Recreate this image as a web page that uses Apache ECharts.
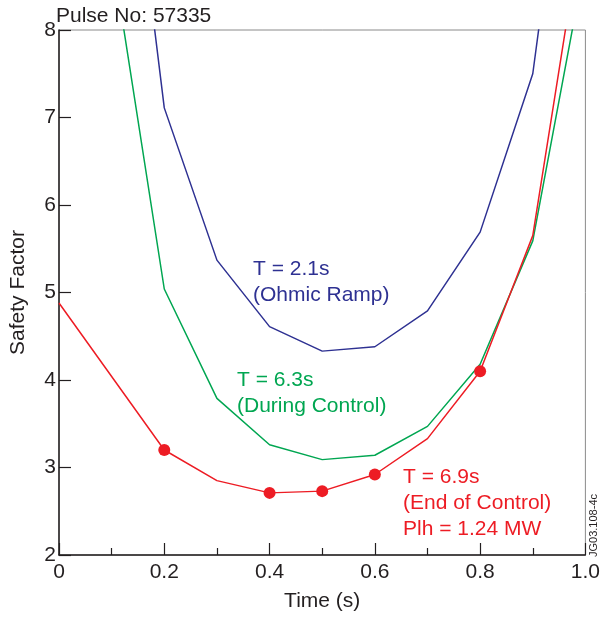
<!DOCTYPE html>
<html>
<head>
<meta charset="utf-8">
<script src="https://cdn.jsdelivr.net/npm/echarts@6/dist/echarts.min.js"></script>
<style>
  html, body { margin: 0; padding: 0; background: #fff; }
  #chart { width: 603px; height: 617px; }
</style>
</head>
<body>
<div id="chart"></div>
<script>
// time (s) at which each profile was sampled
var timeX = [0, 0.1, 0.2, 0.3, 0.4, 0.5, 0.6, 0.7, 0.8, 0.9, 1.0];
// T = 2.1s (Ohmic Ramp)
var ohmicQ = [null, 12.0, 7.11, 5.37, 4.61, 4.33, 4.38, 4.79, 5.69, 7.50, 12.0];
// T = 6.3s (During Control)
var duringQ = [null, 8.9, 5.04, 3.79, 3.26, 3.09, 3.14, 3.47, 4.18, 5.59, 8.8];
// T = 6.9s (End of Control)
var endQ = [4.88, 4.04, 3.20, 2.85, 2.71, 2.73, 2.92, 3.33, 4.10, 5.65, 9.44];
// times where the end-of-control profile carries a marker
var endDots = [0.2, 0.4, 0.5, 0.6, 0.8];

var xTicks = [0, 0.2, 0.4, 0.6, 0.8, 1.0];
var yTicks = [2, 3, 4, 5, 6, 7, 8];

var BLUE = '#2e3192', GREEN = '#00a651', RED = '#ed1c24', INK = '#231f20';
var FONT = '"Liberation Sans", Arial, sans-serif';
var FS = 21;

function pairs(ys) {
  var out = [];
  for (var i = 0; i < timeX.length; i++) {
    if (ys[i] != null) out.push([timeX[i], ys[i]]);
  }
  return out;
}

var endData = pairs(endQ).map(function (p) {
  var dot = endDots.indexOf(p[0]) >= 0;
  return { value: p, symbol: dot ? 'circle' : 'none', symbolSize: dot ? 12 : 0 };
});

var chart = echarts.init(document.getElementById('chart'));
var option = {
  animation: false,
  grid: {
    left: 56, right: 17, top: 30, bottom: 58,
    show: true, borderColor: '#8a8a8a', borderWidth: 1, backgroundColor: 'transparent'
  },
  xAxis: {
    type: 'value', min: 0, max: 1, interval: 0.2,
    name: 'Time (s)', nameLocation: 'middle', nameGap: 36,
    nameTextStyle: { color: INK, fontSize: FS, fontFamily: FONT },
    axisLine: { show: true, lineStyle: { color: INK, width: 1.5 } },
    axisTick: { show: true, inside: true, length: 12, lineStyle: { color: INK, width: 1.2 } },
    minorTick: { show: true, splitNumber: 2, length: 7, lineStyle: { color: INK, width: 1.2 } },
    splitLine: { show: false },
    axisLabel: {
      color: INK, fontSize: FS, fontFamily: FONT, margin: 7,
      formatter: function (v) {
        var i = xTicks.indexOf(Math.round(v * 10) / 10);
        if (i < 0) return '';
        return v === 0 ? '0' : xTicks[i].toFixed(1);
      }
    }
  },
  yAxis: {
    type: 'value', min: 2, max: 8, interval: 1,
    name: 'Safety Factor', nameLocation: 'middle', nameGap: 30, nameRotate: 90,
    nameTextStyle: { color: INK, fontSize: FS, fontFamily: FONT },
    axisLine: { show: true, lineStyle: { color: INK, width: 1.5 } },
    axisTick: { show: true, inside: true, length: 12, lineStyle: { color: INK, width: 1.2 } },
    splitLine: { show: false },
    axisLabel: {
      color: INK, fontSize: FS, fontFamily: FONT, margin: 3,
      formatter: function (v) { return yTicks.indexOf(v) >= 0 ? String(v) : ''; }
    }
  },
  series: [
    {
      name: 'T = 2.1s', type: 'line', data: pairs(ohmicQ), showSymbol: false,
      lineStyle: { color: BLUE, width: 1.5 }, clip: true, z: 3
    },
    {
      name: 'T = 6.3s', type: 'line', data: pairs(duringQ), showSymbol: false,
      lineStyle: { color: GREEN, width: 1.5 }, clip: true, z: 3
    },
    {
      name: 'T = 6.9s', type: 'line', data: endData,
      itemStyle: { color: RED }, lineStyle: { color: RED, width: 1.5 }, clip: true, z: 4
    }
  ],
  graphic: [
    { type: 'text', left: 56, top: 6,
      style: { text: 'Pulse No: 57335', fill: INK, font: FS + 'px ' + FONT } },
    { type: 'text', left: 253, top: 256,
      style: { text: 'T = 2.1s\n(Ohmic Ramp)', fill: BLUE, font: FS + 'px ' + FONT, lineHeight: 26 } },
    { type: 'text', left: 237, top: 367,
      style: { text: 'T = 6.3s\n(During Control)', fill: GREEN, font: FS + 'px ' + FONT, lineHeight: 26 } },
    { type: 'text', left: 403, top: 464,
      style: { text: 'T = 6.9s\n(End of Control)\nPlh = 1.24 MW', fill: RED, font: FS + 'px ' + FONT, lineHeight: 26 } },
    { type: 'text', left: 588, top: 494, rotation: Math.PI / 2,
      style: { text: 'JG03.108-4c', fill: INK, font: '11px ' + FONT } }
  ]
};
chart.setOption(option);
</script>
</body>
</html>
